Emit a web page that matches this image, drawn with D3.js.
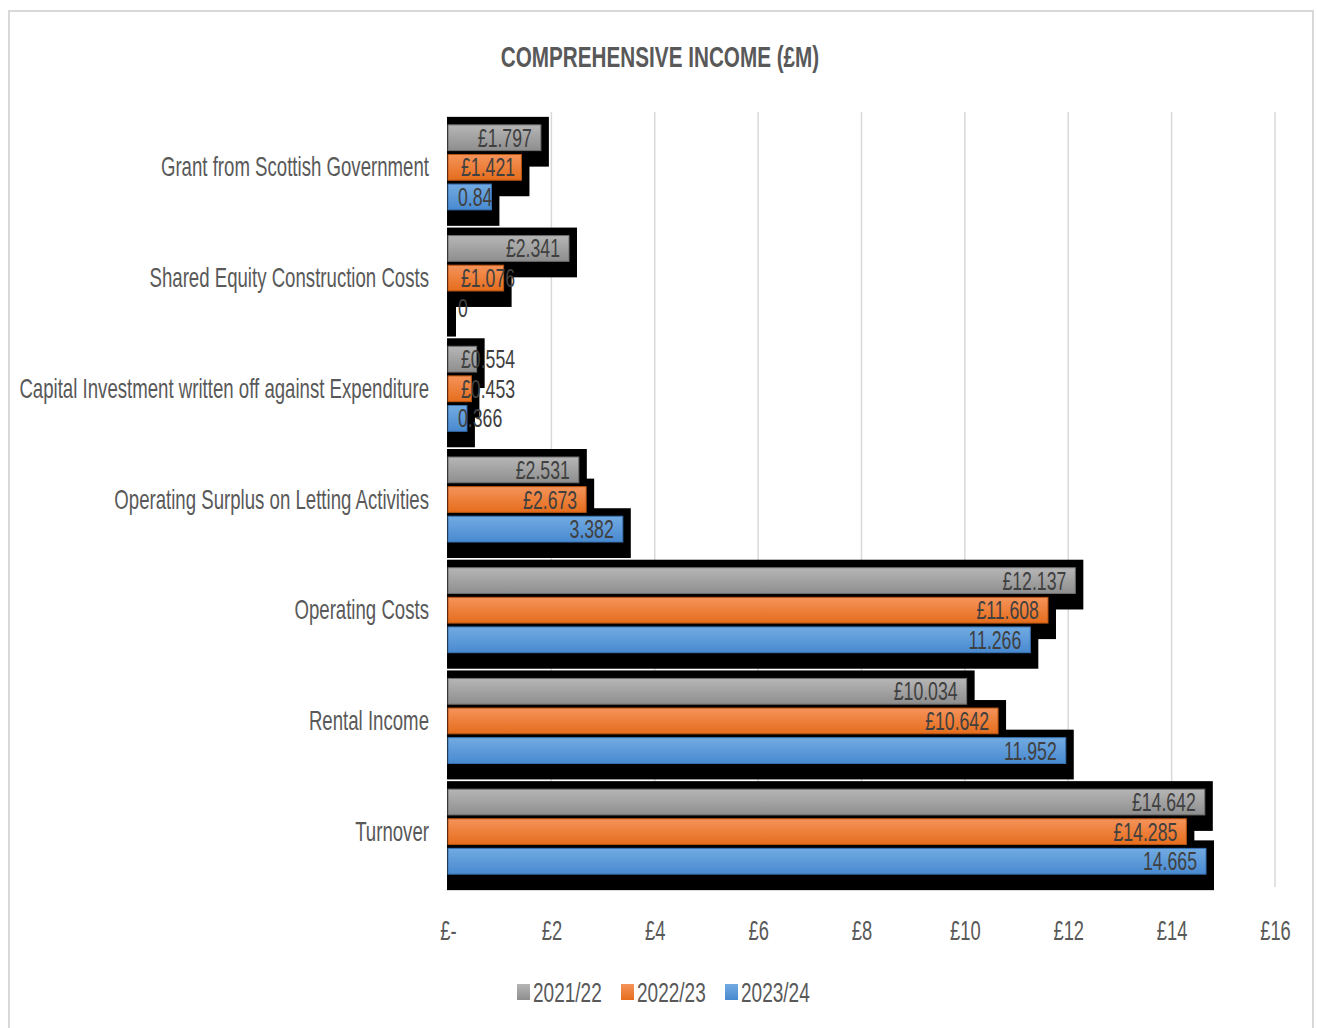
<!DOCTYPE html>
<html>
<head>
<meta charset="utf-8">
<script src="https://cdn.jsdelivr.net/npm/d3@7"></script>
<style>
  body { margin: 0; background: #fff; }
  text { font-family: "Liberation Sans", Arial, sans-serif; }
</style>
</head>
<body>
<div class="chart"></div>
<script>
// data
const categories = [
  "Grant from Scottish Government",
  "Shared Equity Construction Costs",
  "Capital Investment written off against Expenditure",
  "Operating Surplus on Letting Activities",
  "Operating Costs",
  "Rental Income",
  "Turnover"
]
const seriesNames = ["2021/22", "2022/23", "2023/24"]
const values2122 = [1.797, 2.341, 0.554, 2.531, 12.137, 10.034, 14.642]
const values2223 = [1.421, 1.076, 0.453, 2.673, 11.608, 10.642, 14.285]
const values2324 = [0.84, 0, 0.366, 3.382, 11.266, 11.952, 14.665]
const labelPrefix = ["£", "£", ""]
const xTicks = [0, 2, 4, 6, 8, 10, 12, 14, 16]

const width = 1317
const height = 1028
const margin = ({top: 112, right: 42, bottom: 141, left: 448})
const sx = 0.68  // squeeze text sideways, the original font is a narrow one

const seriesValues = [values2122, values2223, values2324]
let rows = []
categories.forEach((c, i) => {
  seriesNames.forEach((s, j) => {
    rows.push({cat: c, series: s, idx: j, value: seriesValues[j][i],
      label: labelPrefix[j] + seriesValues[j][i]})
  })
})

let x = d3.scaleLinear()
  .domain([0, 16])
  .range([margin.left, width - margin.right])

let y = d3.scaleBand()
  .domain(categories)
  .range([margin.top, height - margin.bottom])
  .padding(0)

let ySub = d3.scaleBand()
  .domain(seriesNames)
  .range([-42.5, 42.5])
  .paddingInner(0.13)
  .paddingOuter(0)

const place = (px, py, s = sx) => `translate(${px},${py}) scale(${s},1)`

const svg = d3.select(".chart").append("svg")
  .attr("width", width)
  .attr("height", height)
  .attr("viewBox", [0, 0, width, height])

// gradients
const defs = svg.append("defs")
const grads = [
  ["g0", "#b6b6b6", "#8e8e8e"],
  ["g1", "#f5935a", "#e56d1c"],
  ["g2", "#72abe2", "#4889d0"]
]
grads.forEach(g => {
  const lg = defs.append("linearGradient").attr("id", g[0])
    .attr("x1", 0).attr("x2", 0).attr("y1", 0).attr("y2", 1)
  lg.append("stop").attr("offset", "0%").attr("stop-color", g[1])
  lg.append("stop").attr("offset", "100%").attr("stop-color", g[2])
})
const strokes = ["#6e6e6e", "#b85414", "#3a74b4"]

// frame
svg.append("rect")
  .attr("x", 9).attr("y", 11)
  .attr("width", 1304).attr("height", 1030)
  .attr("fill", "none")
  .attr("stroke", "#d9d9d9")
  .attr("stroke-width", 2)

// title
svg.append("text")
  .attr("transform", place(660, 67, 0.69))
  .attr("text-anchor", "middle")
  .attr("font-size", 30)
  .attr("font-weight", "bold")
  .attr("fill", "#595959")
  .text("COMPREHENSIVE INCOME (£M)")

// grid
svg.append("g")
  .attr("stroke", "#d9d9d9")
  .attr("stroke-width", 1.5)
  .selectAll("line")
  .data(xTicks.slice(1))
  .join("line")
    .attr("x1", d => x(d))
    .attr("x2", d => x(d))
    .attr("y1", margin.top)
    .attr("y2", height - margin.bottom)

// x axis
let xAxis = g => g
  .attr("transform", `translate(0,${height - margin.bottom + 53})`)
  .call(d3.axisBottom(x).tickValues(xTicks).tickSize(0).tickPadding(0)
    .tickFormat(d => d === 0 ? "£-" : "£" + d))
  .call(g => g.select(".domain").remove())
  .call(g => g.selectAll("text")
    .attr("dy", 0)
    .attr("y", 0)
    .attr("transform", `scale(${sx},1)`)
    .attr("font-size", 27)
    .attr("fill", "#595959")
    .style("font-family", "'Liberation Sans', Arial, sans-serif"))

svg.append("g").call(xAxis)

// category labels
svg.append("g")
  .selectAll("text")
  .data(categories)
  .join("text")
    .attr("transform", d => place(margin.left - 19, y(d) + y.bandwidth() / 2 + 9, 0.69))
    .attr("text-anchor", "end")
    .attr("font-size", 27)
    .attr("fill", "#595959")
    .text(d => d)

// shadows
svg.append("g")
  .attr("fill", "#000")
  .selectAll("rect")
  .data(rows)
  .join("rect")
    .attr("x", x(0) - 1)
    .attr("y", d => y(d.cat) + y.bandwidth() / 2 + ySub(d.series) - 8)
    .attr("width", d => x(d.value) - x(0) + 9)
    .attr("height", ySub.bandwidth() + 24)

// bars
svg.append("g")
  .selectAll("rect")
  .data(rows)
  .join("rect")
    .attr("x", x(0))
    .attr("y", d => y(d.cat) + y.bandwidth() / 2 + ySub(d.series))
    .attr("width", d => Math.max(0, x(d.value) - x(0)))
    .attr("height", ySub.bandwidth())
    .attr("fill", d => `url(#g${d.idx})`)
    .attr("stroke", d => d.value > 0 ? strokes[d.idx] : "none")
    .attr("stroke-width", 1)

// value labels
const labels = svg.append("g")
  .selectAll("text")
  .data(rows)
  .join("text")
    .attr("font-size", 26)
    .attr("fill", "#404040")
    .attr("text-anchor", "start")
    .text(d => d.label)

labels.attr("transform", function(d) {
  const w = this.getComputedTextLength() * sx
  const minX = x(0) + (d.label[0] === "£" ? 13 : 10)
  const px = Math.max(minX, x(d.value) - 9 - w)
  const py = y(d.cat) + y.bandwidth() / 2 + ySub(d.series) + ySub.bandwidth() / 2 + 9
  return place(px, py)
})

// legend
const legend = svg.append("g")
  .selectAll("g")
  .data(seriesNames)
  .join("g")
    .attr("transform", (d, i) => `translate(${[517, 621, 725][i]},${992})`)

legend.append("rect")
  .attr("x", 0)
  .attr("y", -8)
  .attr("width", 13)
  .attr("height", 16)
  .attr("fill", (d, i) => `url(#g${i})`)

legend.append("text")
  .attr("transform", place(16, 10, 0.705))
  .attr("font-size", 27)
  .attr("fill", "#595959")
  .text(d => d)
</script>
</body>
</html>
